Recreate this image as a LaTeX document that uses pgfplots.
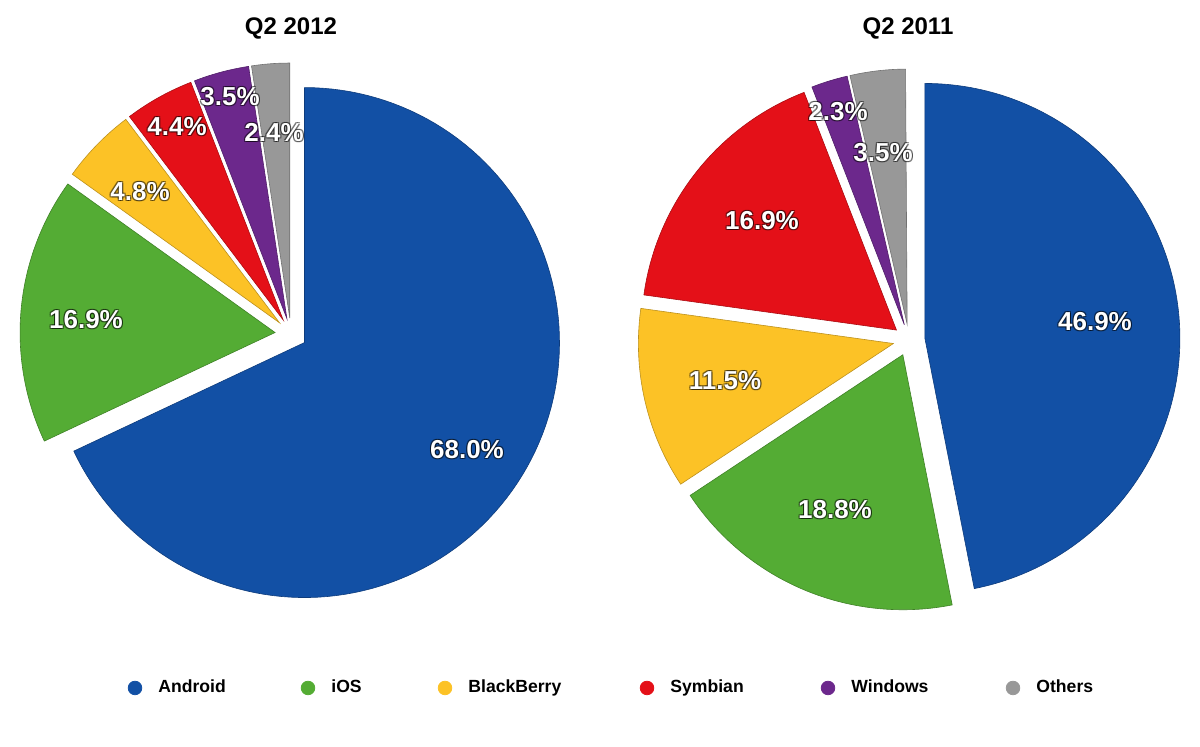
\documentclass[border=0pt]{standalone}
\usepackage{fontspec}
\setmainfont{Liberation Sans}
\usepackage{pgfplots}
\pgfplotsset{compat=1.18}
\definecolor{andr}{RGB}{18,80,165}
\definecolor{ios}{RGB}{84,172,52}
\definecolor{bb}{RGB}{252,194,38}
\definecolor{sym}{RGB}{228,16,24}
\definecolor{win}{RGB}{108,40,140}
\definecolor{oth}{RGB}{152,152,152}
\def\rad{255}
\def\expl{16}
\newcommand\pie[2]{\xdef\pcx{#1}\xdef\pcy{#2}\xdef\cum{0}}
\newcommand\slice[2]{%
  \pgfmathsetmacro\aA{90-3.6*\cum}%
  \pgfmathsetmacro\aB{90-3.6*(\cum+#1)}%
  \pgfmathsetmacro\aM{(\aA+\aB)/2}%
  \pgfmathsetmacro\cx{\pcx+\expl*cos(\aM)}%
  \pgfmathsetmacro\cy{\pcy+\expl*sin(\aM)}%
  \edef\doslice{\noexpand\addplot[fill=#2, draw=#2!75!black, line width=0.3pt, domain=\aB:\aA, samples=120, variable=\noexpand\t] ({\cx+\rad*cos(\noexpand\t)},{\cy+\rad*sin(\noexpand\t)}) -- (axis cs:\cx,\cy) -- cycle;}%
  \doslice
  \pgfmathsetmacro\newcum{\cum+#1}\xdef\cum{\newcum}%
}
\newcommand\lbl[3]{%
  \node[font=\fontsize{13}{15}\selectfont\bfseries, text=black, opacity=0.5, xshift=0.5pt, yshift=0.5pt] at (axis cs:#1,#2) {#3};
  \node[font=\fontsize{13}{15}\selectfont\bfseries, text=black, opacity=0.5, xshift=-0.5pt, yshift=-0.5pt] at (axis cs:#1,#2) {#3};
  \node[font=\fontsize{13}{15}\selectfont\bfseries, text=black, opacity=0.5, xshift=0.5pt, yshift=-0.5pt] at (axis cs:#1,#2) {#3};
  \node[font=\fontsize{13}{15}\selectfont\bfseries, text=black, opacity=0.5, xshift=-0.5pt, yshift=0.5pt] at (axis cs:#1,#2) {#3};
  \node[font=\fontsize{13}{15}\selectfont\bfseries, text=white] at (axis cs:#1,#2) {#3};
}
\newcommand\leg[3]{%
  \addplot[only marks, mark=*, mark size=3.4pt, color=#2] coordinates {(#1,59)};
  \node[anchor=west, inner sep=0pt, text height=6.4pt, text depth=1.8pt, font=\fontsize{8.8}{10}\selectfont\bfseries] at (axis cs:#1+23,59) {#3};
}
\begin{document}
\begin{tikzpicture}
\begin{axis}[
  width=600pt, height=373.5pt, scale only axis,
  xmin=0, xmax=1200, ymin=0, ymax=747,
  axis lines=none, clip=false,
]
\path (rel axis cs:0,0) rectangle (rel axis cs:1,1);
% Q2 2012
\pie{291}{413}
\slice{68.0}{andr}
\slice{16.9}{ios}
\slice{4.8}{bb}
\slice{4.4}{sym}
\slice{3.5}{win}
\slice{2.4}{oth}
% Q2 2011
\pie{909}{407}
\slice{46.9}{andr}
\slice{18.8}{ios}
\slice{11.5}{bb}
\slice{16.9}{sym}
\slice{2.3}{win}
\slice{3.5}{oth}
% labels
\lbl{467}{297}{68.0\%}
\lbl{86}{427}{16.9\%}
\lbl{140}{555}{4.8\%}
\lbl{177}{620}{4.4\%}
\lbl{230}{650}{3.5\%}
\lbl{274}{614}{2.4\%}
\lbl{1095}{425}{46.9\%}
\lbl{835}{237}{18.8\%}
\lbl{725}{366}{11.5\%}
\lbl{762}{526}{16.9\%}
\lbl{838}{635}{2.3\%}
\lbl{883}{594}{3.5\%}
% titles
\node[font=\fontsize{12}{14}\selectfont\bfseries] at (axis cs:291,718) {Q2 2012};
\node[font=\fontsize{12}{14}\selectfont\bfseries] at (axis cs:908,718) {Q2 2011};
% legend
\leg{135}{andr}{Android}
\leg{308}{ios}{iOS}
\leg{445}{bb}{BlackBerry}
\leg{647}{sym}{Symbian}
\leg{828}{win}{Windows}
\leg{1013}{oth}{Others}
\end{axis}
\end{tikzpicture}
\end{document}
